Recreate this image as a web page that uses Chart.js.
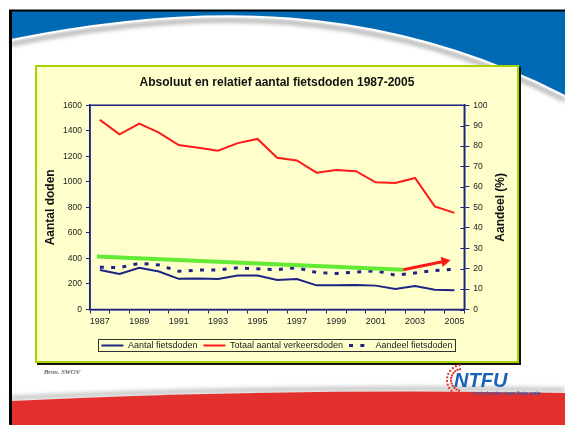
<!DOCTYPE html>
<html>
<head>
<meta charset="utf-8">
<script src="https://cdn.jsdelivr.net/npm/chart.js@4"></script>
<style>
  body { margin: 0; width: 565px; height: 425px; overflow: hidden; position: relative; background: #fff; font-family: "Liberation Sans", Arial, sans-serif; }
  #bg, #logo { position: absolute; left: 0; top: 0; }
  #box { position: absolute; left: 35px; top: 65px; width: 484px; height: 298px; box-sizing: border-box; background: #ffffcc; border: 2px solid #a6d200; box-shadow: 2px 2px 0 #111; }
  #wrap { position: absolute; left: 36px; top: 66px; width: 482px; height: 296px; }
  #bron { position: absolute; left: 44px; top: 368px; font: italic 7px "Liberation Serif", "Times New Roman", serif; color: #333; }
</style>
</head>
<body>
<svg id="bg" width="565" height="425">
  <defs>
    <filter id="blur" x="-5%" y="-50%" width="110%" height="200%"><feGaussianBlur stdDeviation="2"/></filter>
  </defs>
  <rect x="10" y="10" width="555" height="100" fill="#0069b4"/>
  <path d="M11,40 C200,2 380,2 565,96 L565,425 L11,425 Z" fill="#fff"/>
  <path d="M11,44 C200,6 380,6 565,100" stroke="#aaa" stroke-width="4" fill="none" filter="url(#blur)"/>
  <path d="M11,40 C200,2 380,2 565,96" stroke="#fff" stroke-width="2" fill="none"/>
  <path d="M11,398 Q290,385 565,390" stroke="#bbb" stroke-width="4" fill="none" filter="url(#blur)"/>
  <path d="M11,401 Q290,388 565,393 L565,425 L11,425 Z" fill="#e3302e"/>
  <line x1="9" y1="10.5" x2="565" y2="10.5" stroke="#000" stroke-width="2"/>
  <line x1="10.5" y1="10" x2="10.5" y2="425" stroke="#000" stroke-width="3"/>
</svg>
<div id="box"></div>
<div id="wrap"><canvas id="chart" width="482" height="296"></canvas></div>
<div id="bron">Bron. SWOV</div>
<svg id="logo" width="565" height="425">
  <g id="dots"></g>
  <text x="454" y="387" font-family="Liberation Sans, Arial, sans-serif" font-size="20" font-weight="bold" font-style="italic" fill="#1a62b6">NTFU</text>
  <text x="473" y="395" font-family="Liberation Sans, Arial, sans-serif" font-size="5.5" fill="#1a62b6">nederlandse <tspan font-weight="bold">toer fiets unie</tspan></text>
</svg>
<script>
// years on the x axis
const years = ['1987', '1988', '1989', '1990', '1991', '1992', '1993', '1994', '1995', '1996',
               '1997', '1998', '1999', '2000', '2001', '2002', '2003', '2004', '2005'];

// Aantal fietsdoden (left axis)
const fietsdoden = [310, 279, 326, 298, 240, 243, 239, 266, 266, 231, 239, 189, 190, 192, 187, 161, 184, 155, 150];

// Totaal aantal verkeersdoden (left axis)
const verkeersdoden = [1485, 1372, 1456, 1385, 1288, 1266, 1243, 1303, 1336, 1188, 1167, 1072, 1093, 1083, 996, 991, 1030, 808, 757];

// Aandeel fietsdoden in % (right axis)
const aandeel = [20.7, 20.5, 22.6, 21.8, 18.7, 19.3, 19.3, 20.4, 19.9, 19.5, 20.5, 18.1, 17.6, 18.3, 19.0, 16.8, 17.9, 19.1, 19.7];

// hand drawn trend (green) and arrow (red), in years / %
const trendYears = [1986.85, 2002.4];
const trendAandeel = [26, 19.5];
const arrowYears = [2002.4, 2004.5];
const arrowAandeel = [19.5, 23.6];

const navy = '#1d2383';
const fontFamily = '"Liberation Sans", Arial, sans-serif';
Chart.defaults.font.family = fontFamily;
Chart.defaults.color = '#222';

// red dots of the logo
const dots = document.getElementById('dots');
for (let a = 100; a <= 260; a += 14) {
    for (let r = 0; r < 2; r++) {
        const rad = a * Math.PI / 180;
        const d = document.createElementNS('http://www.w3.org/2000/svg', 'rect');
        const rr = 15 - r * 4;
        d.setAttribute('x', 462 + rr * Math.cos(rad) - 1);
        d.setAttribute('y', 380 - rr * Math.sin(rad) - 1);
        d.setAttribute('width', 2);
        d.setAttribute('height', 2);
        d.setAttribute('fill', '#e3302e');
        dots.appendChild(d);
    }
}

const toXY = (xs, ys) => xs.map((x, i) => ({ x: x, y: ys[i] }));

// frame around the plot area, inner half of the right ticks, right title, box round the legend
const framePlugin = {
    id: 'frame',
    beforeDatasetsDraw(chart) {
        const { ctx, chartArea: a, scales } = chart;
        ctx.save();
        ctx.strokeStyle = navy;
        ctx.lineWidth = 1.5;
        ctx.strokeRect(a.left, a.top, a.right - a.left, a.bottom - a.top);
        ctx.lineWidth = 1;
        scales.y1.ticks.forEach((t) => {
            const py = Math.round(scales.y1.getPixelForValue(t.value)) + 0.5;
            ctx.beginPath();
            ctx.moveTo(a.right - 4, py);
            ctx.lineTo(a.right, py);
            ctx.stroke();
        });
        ctx.restore();
    },
    afterDraw(chart) {
        const { ctx, chartArea: a } = chart;
        // right axis title reads bottom to top, like the left one
        ctx.save();
        ctx.translate(a.right + 36, (a.top + a.bottom) / 2);
        ctx.rotate(-Math.PI / 2);
        ctx.fillStyle = '#111';
        ctx.font = 'bold 12px ' + fontFamily;
        ctx.textAlign = 'center';
        ctx.textBaseline = 'middle';
        ctx.fillText('Aandeel (%)', 0, 0);
        ctx.restore();

        const boxes = chart.legend.legendHitBoxes;
        if (!boxes || !boxes.length) return;
        const left = Math.min(...boxes.map((b) => b.left));
        const right = Math.max(...boxes.map((b) => b.left + b.width));
        const top = Math.min(...boxes.map((b) => b.top));
        const bottom = Math.max(...boxes.map((b) => b.top + b.height));
        ctx.save();
        ctx.strokeStyle = '#333';
        ctx.lineWidth = 1;
        ctx.strokeRect(Math.round(left - 3) + 0.5, Math.round(top - 2) + 0.5, Math.round(right - left + 6), Math.round(bottom - top + 3));
        ctx.restore();
    }
};

new Chart(document.getElementById('chart'), {
    type: 'line',
    data: {
        labels: years,
        datasets: [{
            label: 'Aantal fietsdoden',
            data: fietsdoden,
            borderColor: navy,
            backgroundColor: navy,
            borderWidth: 2,
            yAxisID: 'y',
        }, {
            label: 'Totaal aantal verkeersdoden',
            data: verkeersdoden,
            borderColor: '#ff1a1a',
            backgroundColor: '#ff1a1a',
            borderWidth: 2,
            yAxisID: 'y',
        }, {
            label: 'Aandeel fietsdoden',
            data: aandeel,
            borderColor: navy,
            backgroundColor: navy,
            borderWidth: 3,
            borderDash: [4, 7.3],
            yAxisID: 'y1',
        }, {
            label: 'trend',
            data: toXY(trendYears, trendAandeel),
            borderColor: '#63ea35',
            borderWidth: 4,
            xAxisID: 'x2',
            yAxisID: 'y1',
            order: -1,
        }, {
            label: 'pijl',
            data: toXY(arrowYears, arrowAandeel),
            borderColor: '#ff1a1a',
            backgroundColor: '#ff1a1a',
            borderWidth: 3,
            pointRadius: [0, 6],
            pointStyle: 'triangle',
            pointRotation: 79,
            pointBorderWidth: 0,
            xAxisID: 'x2',
            yAxisID: 'y1',
            order: -2,
        }],
    },
    options: {
        responsive: false,
        animation: false,
        events: [],
        elements: {
            point: { radius: 0 },
            line: { tension: 0, borderCapStyle: 'butt' },
        },
        layout: { padding: { top: 0, left: 0, right: 0, bottom: 2 } },
        plugins: {
            title: {
                display: true,
                text: 'Absoluut en relatief aantal fietsdoden 1987-2005',
                color: '#111',
                font: { size: 12, weight: 'bold' },
                padding: { top: 9.5, bottom: 15.3 },
            },
            legend: {
                position: 'bottom',
                labels: {
                    usePointStyle: true,
                    pointStyle: 'line',
                    pointStyleWidth: 22,
                    padding: 6,
                    color: '#222',
                    font: { size: 9 },
                    filter: (item) => item.datasetIndex < 3,
                    generateLabels: (chart) => {
                        const items = Chart.defaults.plugins.legend.labels.generateLabels(chart);
                        items.forEach((item) => {
                            const ds = chart.data.datasets[item.datasetIndex];
                            item.lineDash = ds.borderDash || [];
                            item.lineWidth = ds.borderWidth;
                            item.strokeStyle = ds.borderColor;
                        });
                        return items;
                    },
                },
            },
            tooltip: { enabled: false },
        },
        scales: {
            x: {
                offset: true,
                grid: { offset: true, drawOnChartArea: false, tickLength: 4, color: navy },
                border: { color: navy, width: 1.5 },
                ticks: {
                    autoSkip: false,
                    maxRotation: 0,
                    padding: 3,
                    color: '#222',
                    font: { size: 9 },
                    callback: (v, i) => (i % 2 === 0 ? years[i] : ''),
                },
                afterFit: (s) => { s.height = 25.5; },
            },
            x2: {
                type: 'linear',
                display: false,
                min: 1986.5,
                max: 2005.5,
            },
            y: {
                position: 'left',
                min: 0,
                max: 1600,
                grid: { drawOnChartArea: false, tickLength: 4, color: navy },
                border: { color: navy, width: 1.5 },
                ticks: { stepSize: 200, padding: 4, color: '#222', font: { size: 8.5 }, callback: (v) => String(v) },
                title: { display: true, text: 'Aantal doden', color: '#111', font: { size: 12, weight: 'bold' }, padding: { top: 7.5, bottom: 0 } },
                afterFit: (s) => { s.width = 54; },
            },
            y1: {
                position: 'right',
                min: 0,
                max: 100,
                grid: { drawOnChartArea: false, tickLength: 5, color: navy },
                border: { color: navy, width: 1.5 },
                ticks: { stepSize: 10, padding: 4, color: '#222', font: { size: 8.5 }, callback: (v) => String(v) },
                afterFit: (s) => { s.width = 53.7; },
            },
        },
    },
    plugins: [framePlugin],
});
</script>
</body>
</html>
